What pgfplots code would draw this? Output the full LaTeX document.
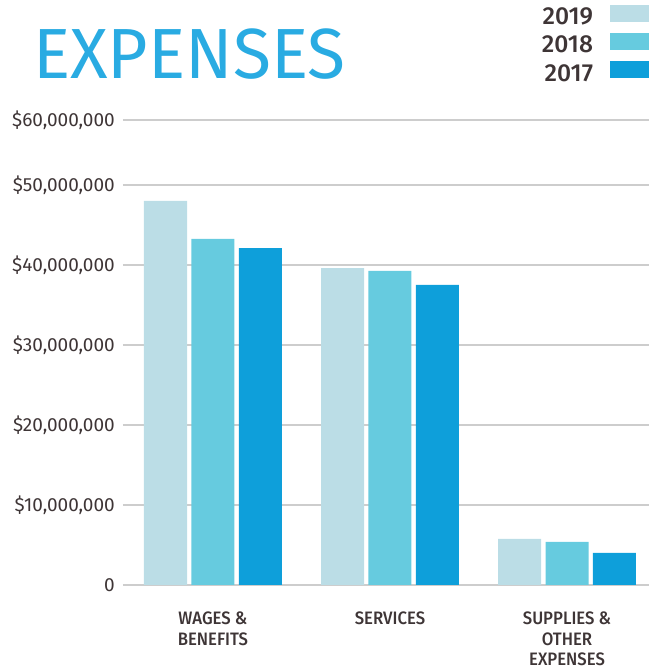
\documentclass[border=0pt]{standalone}
\usepackage{fontspec}
\setmainfont{Fira Sans}
\newfontfamily\titlefont[FakeStretch=0.98]{Fira Sans}
\newfontfamily\medfont{Fira Sans Medium}
\newfontfamily\catfont[FakeStretch=0.93]{Fira Sans Medium}
\usepackage{pgfplots}
\pgfplotsset{compat=1.18}
\definecolor{c19}{HTML}{BBDDE6}
\definecolor{c18}{HTML}{66CBDF}
\definecolor{c17}{HTML}{0E9FDA}
\definecolor{ttl}{HTML}{29ABE2}
\definecolor{txt}{HTML}{3E3536}
\definecolor{grd}{HTML}{CDCDCD}
\begin{document}
\begin{tikzpicture}[x=1pt,y=1pt]
\useasboundingbox (0,0) rectangle (649,670);
\node[anchor=base west, inner sep=0pt, text=ttl, font=\titlefont\fontsize{71}{71}\selectfont] at (33,591) {EXPENSES};
\begin{axis}[
  at={(123pt,85pt)}, anchor=south west,
  scale only axis, width=526pt, height=465pt,
  ymin=0, ymax=5.81e7, xmin=-0.508, xmax=2.463,
  axis line style={draw=none},
  major tick length=0pt,
  ymajorgrids, grid style={grd, line width=2pt},
  xtick={0,1,2},
  xticklabels={{WAGES \&\\BENEFITS},{SERVICES},{SUPPLIES \&\\OTHER\\EXPENSES}},
  xticklabel style={align=center, text=txt, inner sep=0pt, yshift=-27pt, font=\catfont\fontsize{18}{20.5}\selectfont},
  ytick={0,1e7,2e7,3e7,4e7,5e7,5.81e7},
  yticklabels={0,{\$10,000,000},{\$20,000,000},{\$30,000,000},{\$40,000,000},{\$50,000,000},{\$60,000,000}},
  yticklabel style={inner sep=0pt, xshift=-8pt, text=txt, font=\fontsize{19}{19}\selectfont},
  scaled y ticks=false,
  ybar, bar width=0.243,
  legend plot pos=right,
  legend image code/.code={\fill[#1] (0pt,-5pt) rectangle (39pt,12pt);},
  legend style={at={(1,1)}, anchor=north east, yshift=115pt, draw=none, fill=none,
    inner sep=0pt, outer sep=0pt, row sep=7pt, column sep=17pt,
    font=\medfont\fontsize{24.6}{24.6}\selectfont, text=txt,
    nodes={inner sep=0pt}, cells={anchor=east}},
]
\addplot[fill=c19, draw=none, bar shift=-0.268] coordinates {(0,48.0e6) (1,39.6e6) (2,5.75e6)};
\addplot[fill=c18, draw=none, bar shift=0] coordinates {(0,43.25e6) (1,39.25e6) (2,5.4e6)};
\addplot[fill=c17, draw=none, bar shift=0.268] coordinates {(0,42.1e6) (1,37.5e6) (2,4.0e6)};
\legend{2019,2018,2017}
\end{axis}
\end{tikzpicture}
\end{document}
